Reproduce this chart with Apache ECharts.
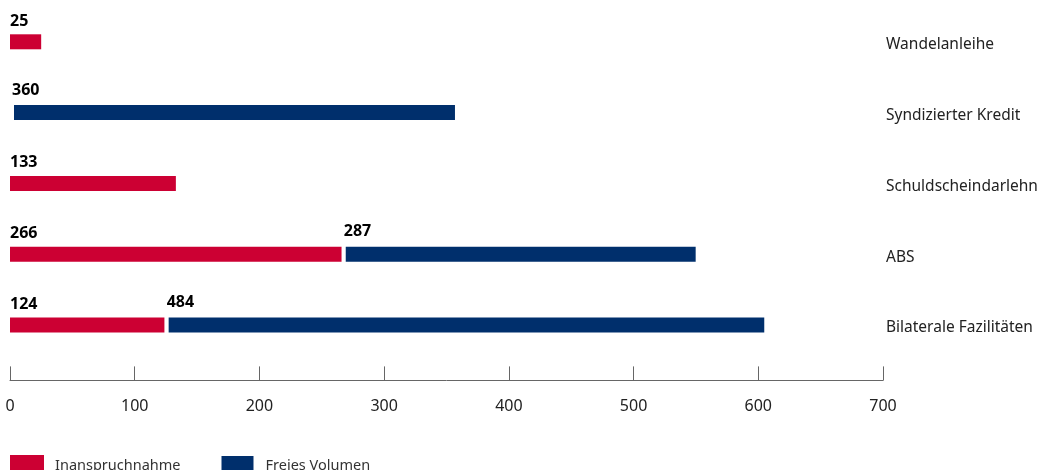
<!DOCTYPE html>
<html><head><meta charset="utf-8">
<script src="https://cdn.jsdelivr.net/npm/echarts@6/dist/echarts.min.js"></script>
<style>html,body{margin:0;padding:0;background:#fff}#c{width:1043px;height:470px}</style>
</head><body><div id="c"></div>
<script>
const categories = ['Wandelanleihe','Syndizierter Kredit','Schuldscheindarlehn','ABS','Bilaterale Fazilitäten'];
const inanspruchnahme = [25, 0, 133, 266, 124];
const freiesVolumen = [0, 360, 0, 287, 484];
const xTicks = [0, 100, 200, 300, 400, 500, 600, 700];

const RED = '#CC0033', BLUE = '#002F6C';
const FONT = 'Noto Sans';
const chart = echarts.init(document.getElementById('c'), null, {renderer:'canvas'});
const W = 4;
const valueLabel = (dx, dy) => ({show:true, position:[dx,dy], align:'left', verticalAlign:'top',
  fontSize:16, fontWeight:'bold', color:'#000', fontFamily:FONT, formatter:p=>p.value});
chart.setOption({
  animation:false,
  textStyle:{fontFamily:FONT},
  grid:{left:10, right:160, top:6.4, bottom:109.6, containLabel:false},
  legend:{
    left:10, top:454, padding:0, itemWidth:34, itemHeight:22, itemGap:39,
    icon:'rect', textStyle:{fontSize:14.5, color:'#333', fontFamily:FONT, padding:[0,0,0,6]},
    data:['Inanspruchnahme','Freies Volumen']
  },
  xAxis:{
    type:'value', min:xTicks[0], max:xTicks[xTicks.length-1], interval:100, offset:20,
    axisLine:{show:true, lineStyle:{color:'#666', width:1}},
    axisTick:{show:true, inside:true, length:14, lineStyle:{color:'#666'}},
    splitLine:{show:false},
    axisLabel:{margin:18, fontSize:16, color:'#222', fontFamily:FONT}
  },
  yAxis:[{
    type:'category', data:categories, inverse:true, position:'right',
    axisLine:{show:false}, axisTick:{show:false},
    axisLabel:{margin:3, align:'left', verticalAlign:'top', lineHeight:6,
      fontSize:15.5, color:'#222', fontFamily:FONT}
  },{
    type:'category', data:categories, inverse:true, position:'right', show:false,
    axisLine:{show:false}, axisTick:{show:false}, axisLabel:{show:false}
  }],
  series:[
    {
      name:'Inanspruchnahme', type:'bar', stack:'a', barWidth:15, yAxisIndex:0,
      itemStyle:{color:RED},
      data:inanspruchnahme.map(v=>v===0?null:v),
      label:valueLabel(0,-21)
    },
    {
      name:'base', type:'bar', stack:'b', barWidth:15+2*W, yAxisIndex:1,
      itemStyle:{color:'rgba(0,0,0,0)'}, silent:true, legendHoverLink:false,
      data:inanspruchnahme
    },
    {
      name:'Freies Volumen', type:'bar', stack:'b', yAxisIndex:1,
      itemStyle:{color:BLUE, borderColor:'#fff', borderWidth:W},
      data:freiesVolumen.map(v=>v===0?null:v),
      label:valueLabel(W/2,-21+W/2)
    }
  ]
});
</script></body></html>
